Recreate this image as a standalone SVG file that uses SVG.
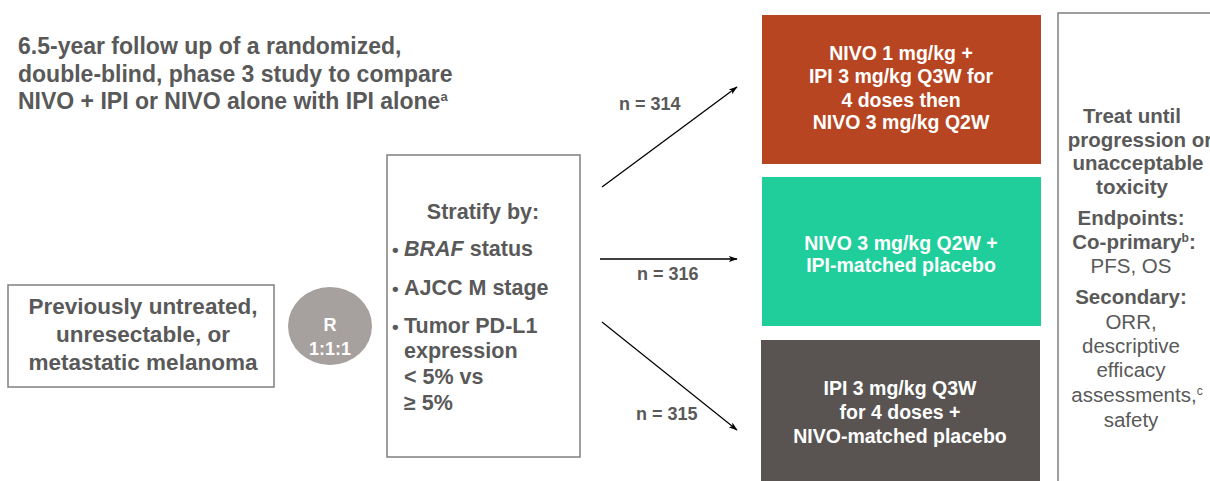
<svg xmlns="http://www.w3.org/2000/svg" width="1210" height="481" viewBox="0 0 1210 481">
  <style>
    text { font-family: "Liberation Sans", Arial, sans-serif; fill: #595959; }
    .b { font-weight: bold; }
    .title { font-size: 23px; font-weight: bold; }
    .lead { font-size: 22.5px; font-weight: bold; text-anchor: middle; }
    .strat { font-size: 21.5px; font-weight: bold; }
    .dot { font-size: 19px; font-weight: bold; }
    .arm { font-size: 19.5px; font-weight: bold; fill: #ffffff; text-anchor: middle; }
    .n { font-size: 18px; font-weight: bold; }
    .side { font-size: 20.5px; text-anchor: middle; }
    .rand { font-size: 18px; font-weight: bold; fill: #ffffff; text-anchor: middle; }
    .box { fill: #ffffff; stroke: #7f7f7f; stroke-width: 1.5; }
    .conn { stroke: #000000; stroke-width: 1.3; fill: none; marker-end: url(#head); }
  </style>
  <defs>
    <marker id="head" viewBox="0 0 12 10" refX="11" refY="5" markerWidth="9" markerHeight="8" markerUnits="userSpaceOnUse" orient="auto">
      <path d="M0,1 L12,5 L0,9 L3,5 Z" fill="#000000"/>
    </marker>
  </defs>

  <!-- heading -->
  <g id="title">
    <text class="title" x="18" y="54">6.5-year follow up of a randomized,</text>
    <text class="title" x="18" y="82">double-blind, phase 3 study to compare</text>
    <text class="title" x="18" y="109">NIVO + IPI or NIVO alone with IPI alone<tspan font-size="13" dy="-8">a</tspan></text>
  </g>

  <!-- patient population -->
  <g id="population">
    <rect class="box" x="8" y="285" width="266" height="102"/>
    <text class="lead" x="143" y="314">Previously untreated,</text>
    <text class="lead" x="143" y="342">unresectable, or</text>
    <text class="lead" x="143" y="370">metastatic melanoma</text>
  </g>

  <!-- randomisation -->
  <g id="randomize">
    <ellipse cx="330" cy="326" rx="42" ry="39" fill="#a6a09e"/>
    <text class="rand" x="330" y="331">R</text>
    <text class="rand" x="330" y="355">1:1:1</text>
  </g>

  <!-- stratification factors -->
  <g id="stratify">
    <rect class="box" x="387" y="155" width="193" height="302"/>
    <text class="strat" x="483" y="219" text-anchor="middle">Stratify by:</text>
    <text class="dot" x="392" y="256">•</text>
    <text class="dot" x="392" y="295">•</text>
    <text class="dot" x="392" y="333">•</text>
    <text class="strat" x="404" y="256"><tspan font-style="italic">BRAF</tspan> status</text>
    <text class="strat" x="404" y="295">AJCC M stage</text>
    <text class="strat" x="404" y="333">Tumor PD-L1</text>
    <text class="strat" x="404" y="358">expression</text>
    <text class="strat" x="404" y="384">&lt; 5% vs</text>
    <text class="strat" x="404" y="410">≥ 5%</text>
  </g>

  <!-- allocation arrows -->
  <g id="connectors">
    <line class="conn" x1="602" y1="187" x2="737" y2="87"/>
    <line class="conn" x1="600" y1="259" x2="737" y2="259" stroke-width="2"/>
    <line class="conn" x1="602" y1="322" x2="737" y2="430"/>
    <text class="n" x="619" y="110">n = 314</text>
    <text class="n" x="637" y="280">n = 316</text>
    <text class="n" x="636" y="420">n = 315</text>
  </g>

  <!-- treatment arms -->
  <g id="arm-combo">
    <rect x="762" y="15" width="279" height="149" fill="#b84521"/>
    <text class="arm" x="901" y="60">NIVO 1 mg/kg +</text>
    <text class="arm" x="901" y="83">IPI 3 mg/kg Q3W for</text>
    <text class="arm" x="901" y="107">4 doses then</text>
    <text class="arm" x="901" y="129">NIVO 3 mg/kg Q2W</text>
  </g>
  <g id="arm-nivo">
    <rect x="762" y="177" width="279" height="149" fill="#1fce9a"/>
    <text class="arm" x="901" y="250">NIVO 3 mg/kg Q2W +</text>
    <text class="arm" x="901" y="272">IPI-matched placebo</text>
  </g>
  <g id="arm-ipi">
    <rect x="761" y="340" width="279" height="141" fill="#595452"/>
    <text class="arm" x="900" y="395">IPI 3 mg/kg Q3W</text>
    <text class="arm" x="900" y="419">for 4 doses +</text>
    <text class="arm" x="900" y="443">NIVO-matched placebo</text>
  </g>

  <!-- treatment duration and endpoints -->
  <g id="endpoints">
    <path d="M1058,481 V13 H1212" fill="none" stroke="#7f7f7f" stroke-width="1.5"/>
    <text class="side b" x="1132" y="123">Treat until</text>
    <text class="side b" x="1140" y="147">progression or</text>
    <text class="side b" x="1138" y="170">unacceptable</text>
    <text class="side b" x="1132" y="194">toxicity</text>
    <text class="side b" x="1131" y="225">Endpoints:</text>
    <text class="side b" x="1134" y="249">Co-primary<tspan font-size="12" dy="-7">b</tspan><tspan dy="7">:</tspan></text>
    <text class="side" x="1131" y="273">PFS, OS</text>
    <text class="side b" x="1131" y="304">Secondary:</text>
    <text class="side" x="1131" y="329">ORR,</text>
    <text class="side" x="1131" y="353">descriptive</text>
    <text class="side" x="1131" y="377">efficacy</text>
    <text class="side" x="1137" y="402">assessments,<tspan font-size="12" dy="-7">c</tspan></text>
    <text class="side" x="1131" y="427">safety</text>
  </g>
</svg>
